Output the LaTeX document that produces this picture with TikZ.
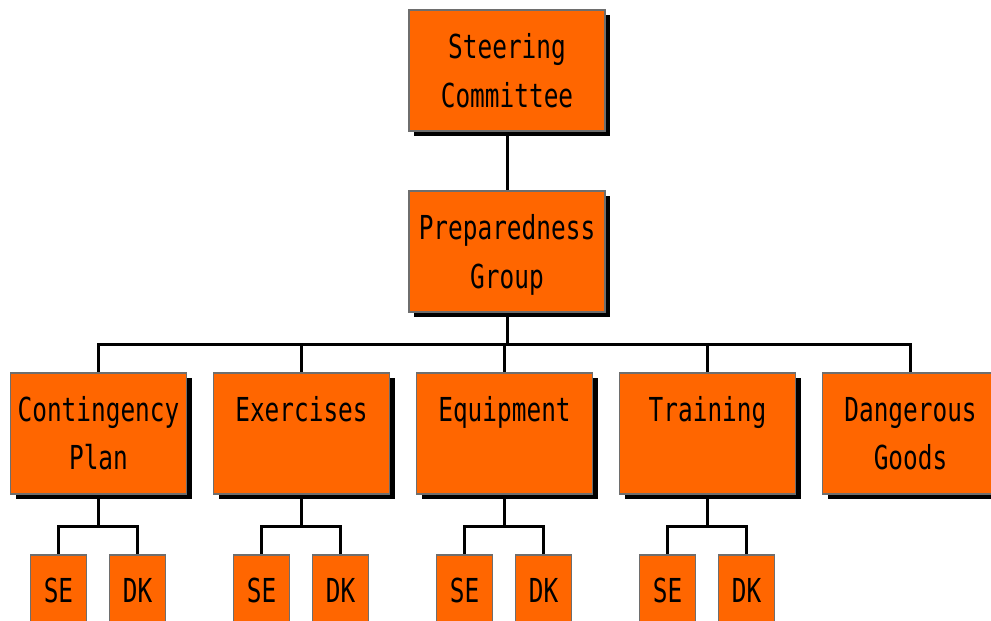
\documentclass[tikz,border=0pt]{standalone}
\usepackage{fontspec}
\newfontfamily\boxfont[FakeStretch=0.74]{DejaVu Sans Mono}
\usetikzlibrary{shadows,calc,backgrounds}
\definecolor{boxorange}{HTML}{FF6600}
\definecolor{boxedge}{HTML}{6E6E6E}
\begin{document}
\begin{tikzpicture}[x=1pt,y=-1pt,
  box/.style={draw=boxedge, line width=1.5pt, fill=boxorange,
    minimum width=176pt, minimum height=121pt, inner sep=0pt,
    drop shadow={shadow xshift=5pt, shadow yshift=-5pt, opacity=1, fill=black}},
  subbox/.style={draw=boxedge, line width=1.5pt, fill=boxorange,
    minimum width=56pt, minimum height=121pt, inner sep=0pt},
  lbl/.style={anchor=base, font=\boxfont\fontsize{33}{40}\selectfont, inner sep=0pt},
  conn/.style={line width=3pt, black}]
\useasboundingbox (0,0) rectangle (991,621);
\clip (0,0) rectangle (991,621);
% top
\node[box, minimum width=196pt] (sc) at (507,70.5) {};
\node[lbl] (sct1) at ($(sc.north)+(0,49)$) {Steering};
\node[lbl] (sct2) at ($(sc.north)+(0,98)$) {Committee};
\node[box, minimum width=196pt] (pg) at (507,251.5) {};
\node[lbl] (pgt1) at ($(pg.north)+(0,49)$) {Preparedness};
\node[lbl] (pgt2) at ($(pg.north)+(0,98)$) {Group};
% row 2
\node[box] (cp) at (98.5,433.5) {};
\node[lbl] (cpt1) at ($(cp.north)+(0,49)$) {Contingency};
\node[lbl] (cpt2) at ($(cp.north)+(0,97)$) {Plan};
\node[box] (ex) at (301.5,433.5) {};
\node[lbl] (ext1) at ($(ex.north)+(0,49)$) {Exercises};
\node[box] (eq) at (504.5,433.5) {};
\node[lbl] (eqt1) at ($(eq.north)+(0,49)$) {Equipment};
\node[box] (tr) at (707.5,433.5) {};
\node[lbl] (trt1) at ($(tr.north)+(0,49)$) {Training};
\node[box] (dg) at (910.5,433.5) {};
\node[lbl] (dgt1) at ($(dg.north)+(0,49)$) {Dangerous};
\node[lbl] (dgt2) at ($(dg.north)+(0,97)$) {Goods};
% row 3
\foreach \p in {cp,ex,eq,tr}{
  \node[subbox] (\p se) at ($(\p.south)+(-40,120.5)$) {};
  \node[lbl] (\p set) at ($(\p se.north)+(0,48)$) {SE};
  \node[subbox] (\p dk) at ($(\p.south)+(39,120.5)$) {};
  \node[lbl] (\p dkt) at ($(\p dk.north)+(0,48)$) {DK};
}
% connectors
\begin{scope}[on background layer]
\draw[conn] (sc.south) -- (pg.north);
\draw[conn] (pg.south) -- ++(0,31);
\draw[conn] (cp.north) -- ++(0,-28) -| (dg.north);
\draw[conn] (ex.north) -- ++(0,-28);
\draw[conn] (eq.north) -- ++(0,-28);
\draw[conn] (tr.north) -- ++(0,-28);
\foreach \p in {cp,ex,eq,tr}{
  \draw[conn] (\p.south) -- ++(0,32);
  \draw[conn] (\p se.north) -- ++(0,-28) -| (\p dk.north);
}
\end{scope}
\end{tikzpicture}
\end{document}
